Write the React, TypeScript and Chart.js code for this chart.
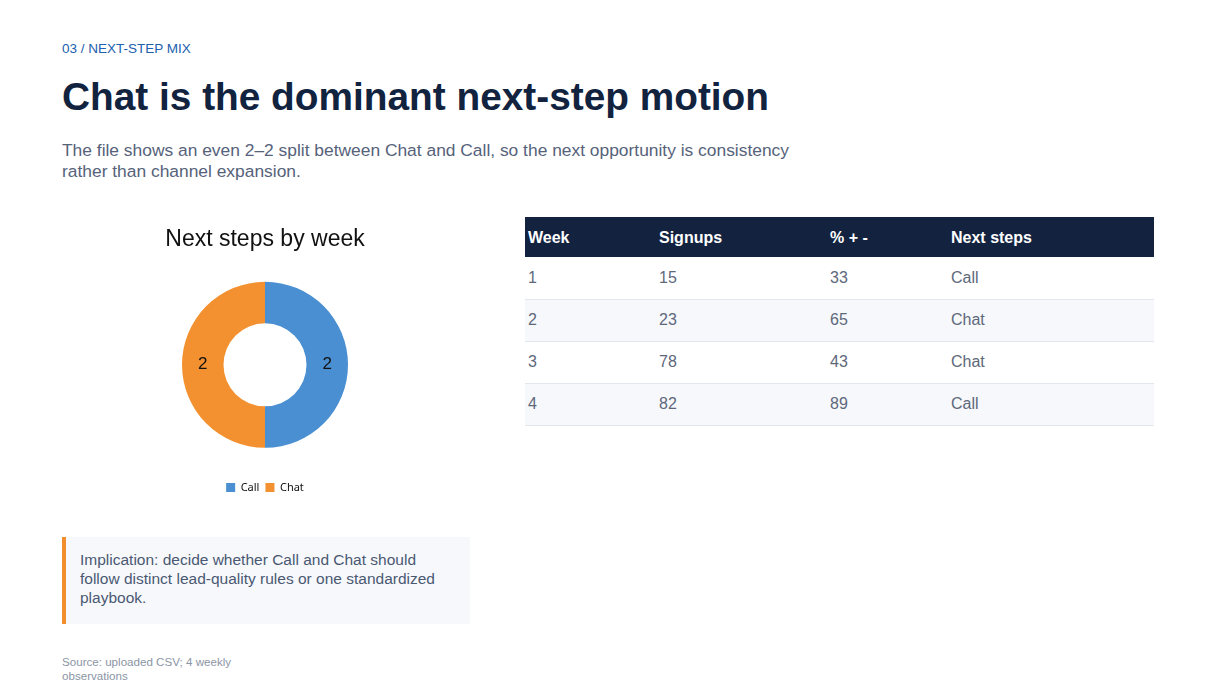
import { useEffect, useRef } from "react";
import { Chart, registerables } from "chart.js";
import type { Plugin } from "chart.js";

Chart.register(...registerables);

// donut: next-step channel counts
const channels = ["Call", "Chat"];
const channelCounts = [2, 2];
const channelColors = ["#4a8fd1", "#f39130"];

// table rows
const weeks = ["1", "2", "3", "4"];
const signups = [15, 23, 78, 82];
const pctChange = [33, 65, 43, 89];
const nextSteps = ["Call", "Chat", "Chat", "Call"];
const tableHeaders = ["Week", "Signups", "% + -", "Next steps"];
const colWidths = [131, 171, 121, 206];

const FONT = '"Liberation Sans", Arial, Helvetica, sans-serif';

// prints each slice value in the middle of its ring segment
const sliceLabels: Plugin<"doughnut"> = {
  id: "sliceLabels",
  afterDatasetsDraw(chart) {
    const { ctx } = chart;
    const meta = chart.getDatasetMeta(0);
    const values = chart.data.datasets[0].data as number[];
    ctx.save();
    ctx.font = `17px ${FONT}`;
    ctx.fillStyle = "#111111";
    ctx.textAlign = "center";
    ctx.textBaseline = "middle";
    meta.data.forEach((arc, i) => {
      const { x, y } = arc.tooltipPosition(true);
      ctx.fillText(String(values[i]), x, y);
    });
    ctx.restore();
  },
};

function NextStepsDonut() {
  const canvasRef = useRef<HTMLCanvasElement>(null);
  const chartRef = useRef<Chart<"doughnut"> | null>(null);

  useEffect(() => {
    if (!canvasRef.current) return;

    chartRef.current?.destroy();
    chartRef.current = new Chart(canvasRef.current, {
      type: "doughnut",
      data: {
        labels: channels,
        datasets: [
          {
            data: channelCounts,
            backgroundColor: channelColors,
            borderWidth: 0,
            radius: 83,
            cutout: "50%",
          },
        ],
      },
      options: {
        animation: false,
        responsive: true,
        maintainAspectRatio: false,
        plugins: {
          title: {
            display: true,
            text: "Next steps by week",
            color: "#111111",
            font: { family: FONT, size: 23, weight: "normal" },
            padding: { top: 9, bottom: 0 },
          },
          legend: {
            position: "bottom",
            labels: {
              boxWidth: 9,
              boxHeight: 9,
              padding: 6,
              color: "#111111",
              font: { family: '"Noto Sans", sans-serif', size: 11 },
            },
          },
          tooltip: { enabled: false },
        },
      },
      plugins: [sliceLabels],
    });

    return () => chartRef.current?.destroy();
  }, []);

  return (
    <div style={{ position: "absolute", left: 62, top: 217, width: 406, height: 286 }}>
      <canvas ref={canvasRef} />
    </div>
  );
}

function WeekTable() {
  return (
    <table
      style={{
        position: "absolute",
        left: 525,
        top: 217,
        width: 629,
        borderCollapse: "collapse",
        tableLayout: "fixed",
        fontFamily: FONT,
        fontSize: 16,
      }}
    >
      <colgroup>
        {colWidths.map((w, i) => (
          <col key={i} style={{ width: w }} />
        ))}
      </colgroup>
      <thead>
        <tr style={{ background: "#13233f", height: 40 }}>
          {tableHeaders.map((h) => (
            <th
              key={h}
              style={{
                color: "#ffffff",
                fontWeight: "bold",
                textAlign: "left",
                padding: "2px 3px 0 3px",
              }}
            >
              {h}
            </th>
          ))}
        </tr>
      </thead>
      <tbody>
        {weeks.map((w, i) => (
          <tr
            key={w}
            style={{
              height: 42,
              background: i % 2 === 1 ? "#f6f8fb" : "#ffffff",
              borderBottom: "1px solid #e2e7ee",
            }}
          >
            {[w, signups[i], pctChange[i], nextSteps[i]].map((v, j) => (
              <td key={j} style={{ color: "#5e687b", padding: "0 3px" }}>
                {v}
              </td>
            ))}
          </tr>
        ))}
      </tbody>
    </table>
  );
}

export default function App() {
  return (
    <div
      style={{
        position: "absolute",
        left: 0,
        top: 0,
        width: 1224,
        height: 686,
        background: "#ffffff",
        fontFamily: FONT,
        overflow: "hidden",
      }}
    >
      <div style={{ position: "absolute", left: 62, top: 41, fontSize: 13.5, color: "#2160ad" }}>
        03 / NEXT-STEP MIX
      </div>
      <div
        style={{
          position: "absolute",
          left: 62,
          top: 75,
          fontSize: 38.8,
          fontWeight: "bold",
          color: "#12233f",
          whiteSpace: "nowrap",
        }}
      >
        Chat is the dominant next-step motion
      </div>
      <div
        style={{
          position: "absolute",
          left: 62,
          top: 140,
          width: 760,
          fontSize: 17.4,
          lineHeight: "21px",
          color: "#56627a",
        }}
      >
        The file shows an even 2–2 split between Chat and Call, so the next opportunity is consistency
        rather than channel expansion.
      </div>

      <NextStepsDonut />
      <WeekTable />

      <div
        style={{
          position: "absolute",
          left: 62,
          top: 537,
          width: 408,
          height: 87,
          boxSizing: "border-box",
          background: "#f7f8fc",
          borderLeft: "4px solid #f28e2b",
          padding: "13px 14px 0 14px",
          fontSize: 15.5,
          lineHeight: "19px",
          color: "#4a5872",
        }}
      >
        Implication: decide whether Call and Chat should follow distinct lead-quality rules or one
        standardized playbook.
      </div>

      <div
        style={{
          position: "absolute",
          left: 62,
          top: 655,
          width: 200,
          fontSize: 11.6,
          lineHeight: "14px",
          color: "#8b95a5",
        }}
      >
        Source: uploaded CSV; 4 weekly observations
      </div>
    </div>
  );
}
